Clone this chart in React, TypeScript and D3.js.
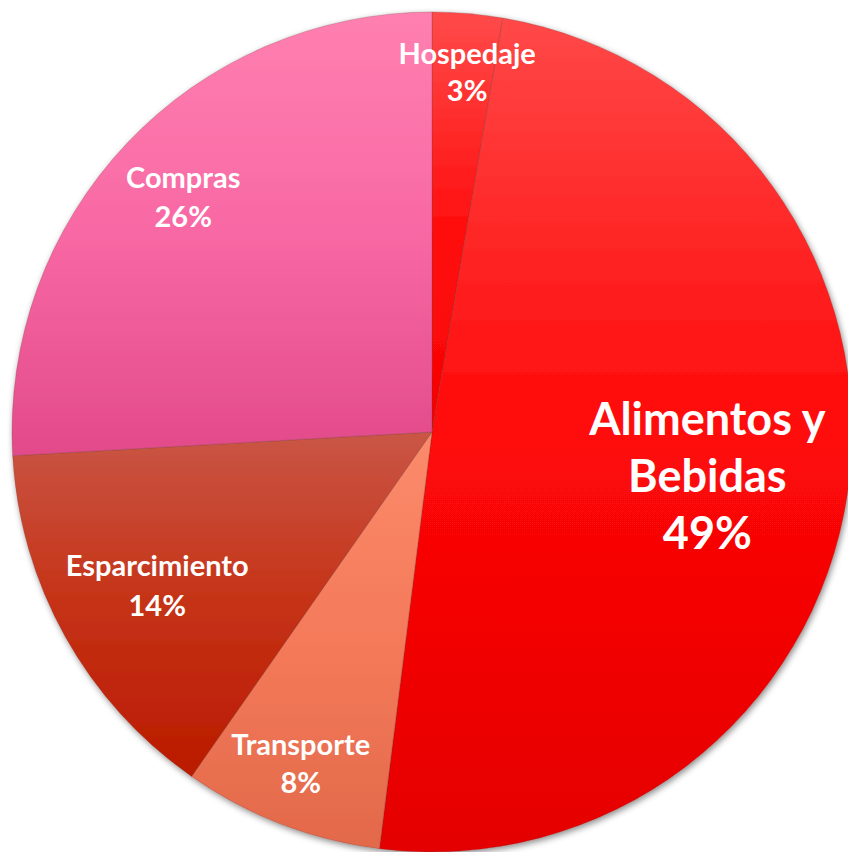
import React from "react";
import * as d3 from "d3";

const categories = ["Hospedaje", "Alimentos y Bebidas", "Transporte", "Esparcimiento", "Compras"];
const values = [2.7, 49.3, 7.7, 14.4, 25.9];
const percentLabels = ["3%", "49%", "8%", "14%", "26%"];
const labelLines = [["Hospedaje"], ["Alimentos y", "Bebidas"], ["Transporte"], ["Esparcimiento"], ["Compras"]];

// styling (top, mid, bottom gradient stops per slice)
const gradients = [
  ["#ff4a4a", "#ff1010", "#f80000"],
  ["#ff4848", "#ff0808", "#e40000"],
  ["#fb8b6b", "#f47a5a", "#e2694a"],
  ["#ca5646", "#c53216", "#ba1a00"],
  ["#ff80b0", "#f868a4", "#e24a8a"],
];
const labelRadius = [0.84, 0.67, 0.87, 0.76, 0.8];
const labelAngleShift = [0.015, 0.06, 0, -0.025, -0.02];
const fontSizes = [29, 45, 29, 29, 29];
const lineHeights = [37, 57, 38, 40, 39];

export default function App() {
  const W = 848, H = 852;
  const cx = 432, cy = 432, R = 420;
  const pie = d3.pie<number>().sort(null).startAngle(0).endAngle(2 * Math.PI);
  const arcs = pie(values);
  const arc = d3.arc<d3.PieArcDatum<number>>().innerRadius(0).outerRadius(R);

  return (
    <svg width={W} height={H} style={{ position: "absolute", left: 0, top: 0, background: "#fff" }}>
      <defs>
        {gradients.map((g, i) => (
          <linearGradient key={i} id={`g${i}`} x1="0" y1="0" x2="0" y2="1">
            <stop offset="0" stopColor={g[0]} />
            <stop offset="0.5" stopColor={g[1]} />
            <stop offset="1" stopColor={g[2]} />
          </linearGradient>
        ))}
        <filter id="shadow" x="-10%" y="-10%" width="120%" height="120%">
          <feDropShadow dx="1.5" dy="2.5" stdDeviation="3" floodColor="#000" floodOpacity="0.45" />
        </filter>
      </defs>
      <g transform={`translate(${cx},${cy})`}>
        <g filter="url(#shadow)">
          {arcs.map((a, i) => (
            <path key={i} d={arc(a) || ""} fill={`url(#g${i})`} stroke="rgba(120,60,60,0.35)" strokeWidth={0.8} />
          ))}
        </g>
        {arcs.map((a, i) => {
          const mid = (a.startAngle + a.endAngle) / 2 + labelAngleShift[i];
          const r = R * labelRadius[i];
          const x = Math.sin(mid) * r;
          const y = -Math.cos(mid) * r;
          const lines = [...labelLines[i], percentLabels[i]];
          const lh = lineHeights[i];
          const fs = fontSizes[i];
          const y0 = y - ((lines.length - 1) * lh) / 2 + fs * 0.04;
          return (
            <text key={i} x={x} y={y0} textAnchor="middle" fill="#fff"
              style={{ fontFamily: "Lato, 'Open Sans', sans-serif", fontWeight: 700, fontSize: fs }}>
              {lines.map((l, j) => (
                <tspan key={j} x={x} y={y0 + j * lh}>{l}</tspan>
              ))}
            </text>
          );
        })}
      </g>
    </svg>
  );
}
